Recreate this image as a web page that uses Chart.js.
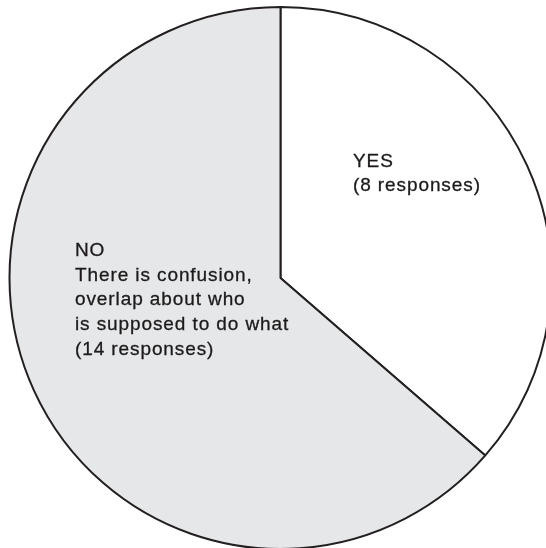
<!DOCTYPE html>
<html>
<head>
<meta charset="utf-8">
<script src="https://cdn.jsdelivr.net/npm/chart.js@4.4.1/dist/chart.umd.min.js"></script>
<style>
  html, body { margin: 0; padding: 0; background: #fff; overflow: hidden; }
  #wrap { width: 561px; height: 556px; }
</style>
</head>
<body>
<div id="wrap"><canvas id="pieChart" width="561" height="556"></canvas></div>
<script>
const categories = ['YES', 'NO'];
const responses = [8, 14];
const labelLines = [
    ['YES', '(8 responses)'],
    ['NO', 'There is confusion,', 'overlap about who', 'is supposed to do what', '(14 responses)']
];

// text block offsets from the pie centre (left edge, first baseline)
const labelOffsets = [
    { x: 72.5, y: -111.5 },
    { x: -205.5, y: -22 }
];

const sliceLabels = {
    id: 'sliceLabels',
    afterDatasetsDraw(chart) {
        const ctx = chart.ctx;
        const arc = chart.getDatasetMeta(0).data[0];
        ctx.save();
        ctx.fillStyle = '#1c1a1b';
        ctx.strokeStyle = '#1c1a1b';
        ctx.lineWidth = 0.3;
        ctx.font = '19px "Liberation Sans", Arial, sans-serif';
        ctx.letterSpacing = '0.9px';
        ctx.textAlign = 'left';
        ctx.textBaseline = 'alphabetic';
        labelLines.forEach((lines, i) => {
            lines.forEach((line, j) => {
                const tx = arc.x + labelOffsets[i].x;
                const ty = arc.y + labelOffsets[i].y + j * 24.7;
                ctx.fillText(line, tx, ty);
                ctx.strokeText(line, tx, ty);
            });
        });
        ctx.restore();
    }
};

const pieCtx = document.getElementById('pieChart').getContext('2d');
const pieChart = new Chart(pieCtx, {
    type: 'pie',
    data: {
        labels: categories,
        datasets: [{
            data: responses,
            backgroundColor: ['#ffffff', '#e6e7e8'],
            borderColor: '#231f20',
            borderWidth: 2,
            radius: 271
        }]
    },
    options: {
        responsive: false,
        animation: false,
        layout: { padding: 0 },
        plugins: {
            legend: { display: false },
            tooltip: { enabled: false }
        }
    },
    plugins: [sliceLabels]
});
</script>
</body>
</html>
